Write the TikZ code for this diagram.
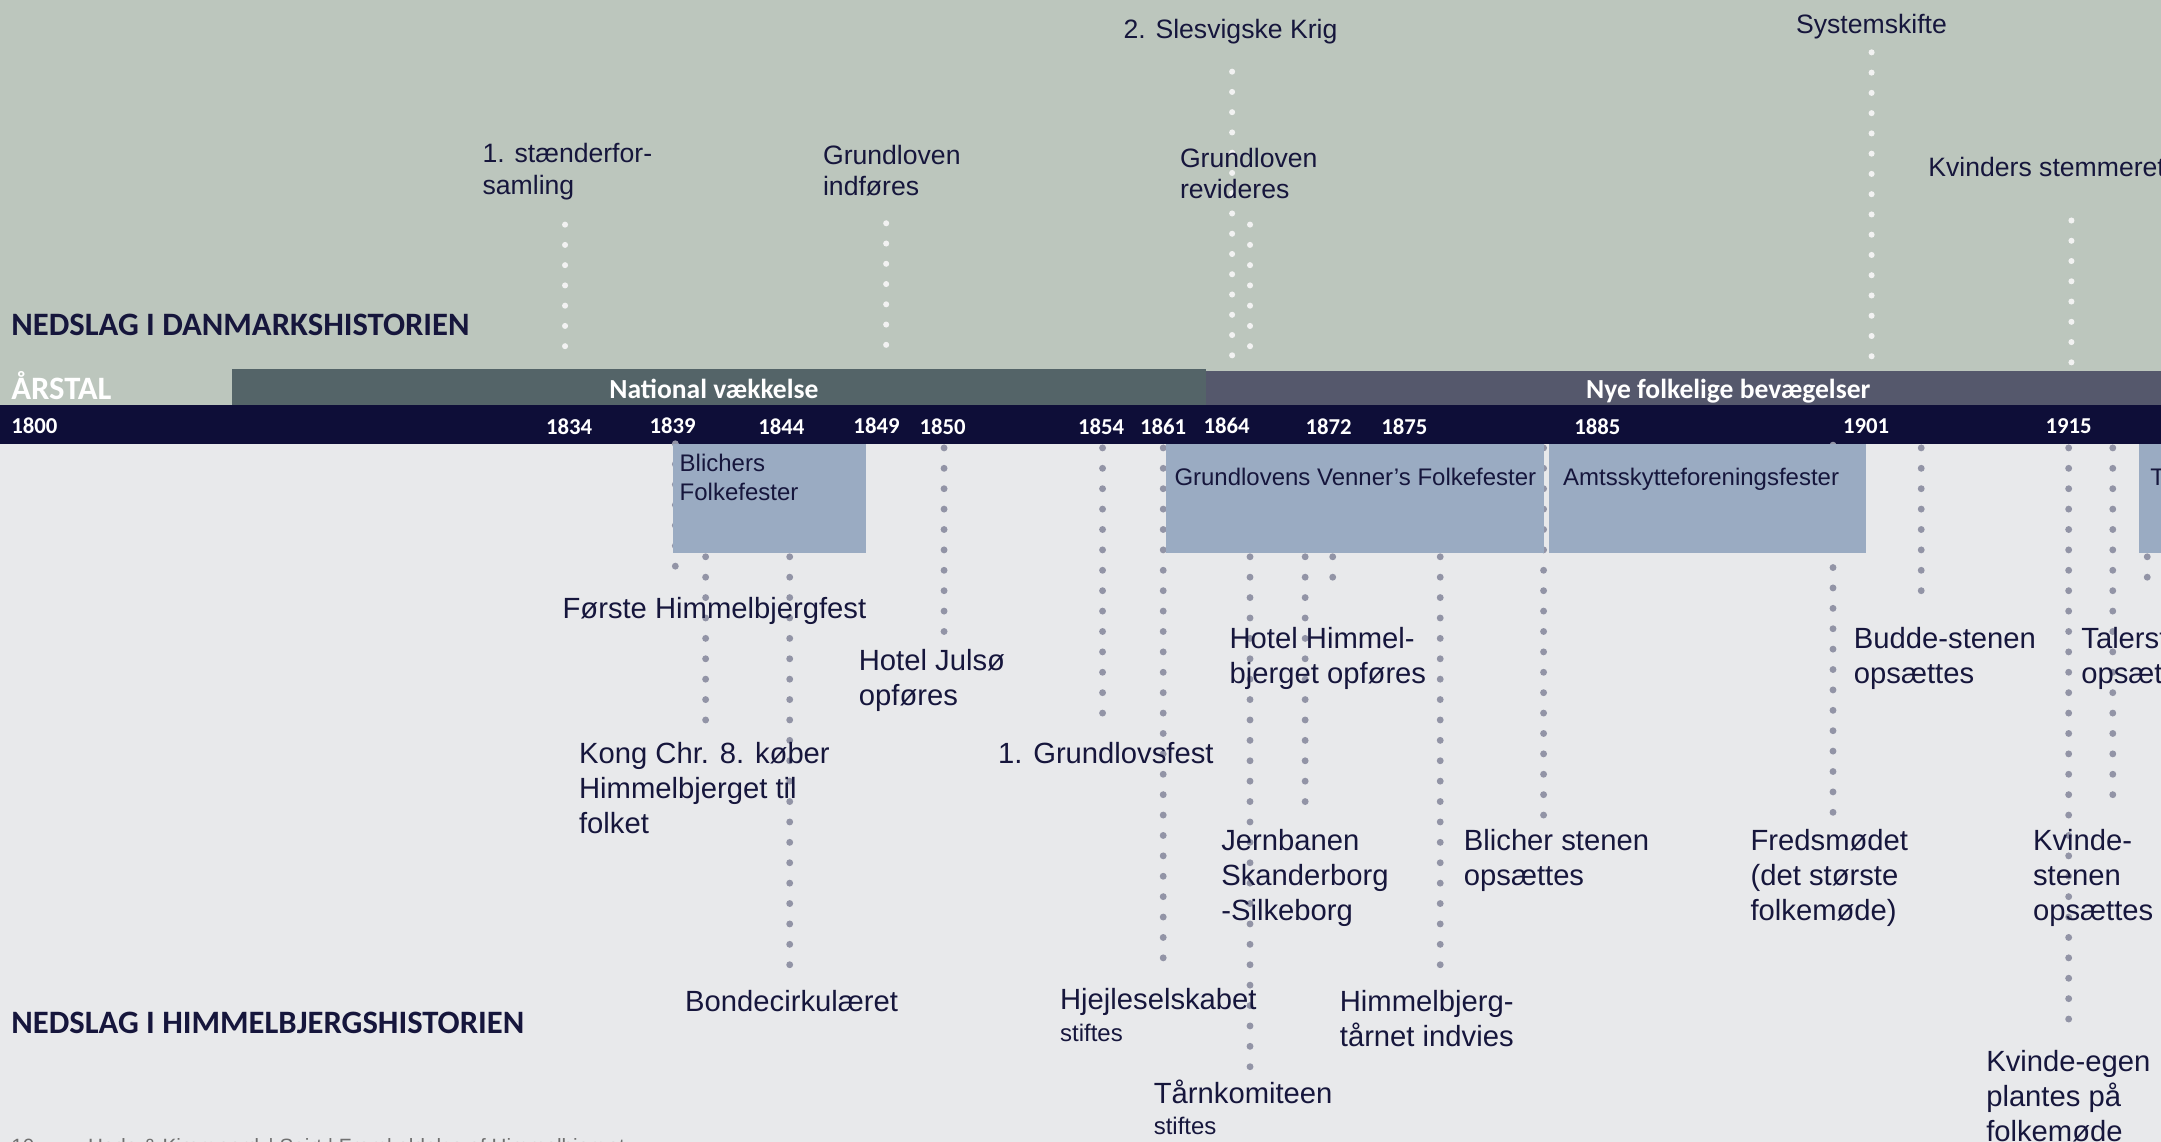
\documentclass[tikz,border=0pt]{standalone}
\usepackage{fontspec}
\setmainfont{Liberation Sans}
\newfontfamily\hdfont{Carlito}
\definecolor{topbg}{HTML}{BCC6BD}
\definecolor{lowbg}{HTML}{E8E9EB}
\definecolor{natband}{HTML}{546468}
\definecolor{nyeband}{HTML}{55586C}
\definecolor{yearbar}{HTML}{0E0E38}
\definecolor{boxfill}{HTML}{9AABC2}
\definecolor{ink}{HTML}{16163C}
\definecolor{wdot}{HTML}{F2F2F2}
\definecolor{gdot}{HTML}{9294A6}
\definecolor{foot}{HTML}{707070}
\tikzset{
  wdots/.style={draw=wdot, line width=4.4pt, line cap=round, dash pattern=on 0pt off 14.7pt},
  gdots/.style={draw=gdot, line width=5pt, line cap=round, dash pattern=on 0pt off 14.8pt},
  lbl/.style={anchor=north west, inner sep=0pt, align=left, text=ink, yshift=17.78pt,
    font=\fontsize{21.2}{25.4}\selectfont},
  toplbl/.style={anchor=north west, inner sep=0pt, align=left, text=ink, yshift=16.1pt,
    font=\fontsize{19.3}{23}\selectfont},
  boxlbl/.style={anchor=north west, inner sep=0pt, align=left, text=ink, yshift=14.7pt,
    font=\fontsize{17.4}{21}\selectfont},
  heading/.style={anchor=base west, inner sep=0pt, text=ink, font=\hdfont\bfseries\fontsize{23.7}{28}\selectfont},
  bandlbl/.style={anchor=base, inner sep=0pt, text=white, font=\hdfont\bfseries\fontsize{20}{24}\selectfont},
  year/.style={anchor=base, inner sep=0pt, text=white, font=\hdfont\bfseries\fontsize{16.5}{20}\selectfont},
  evbox/.style={fill=boxfill, draw=none, inner sep=0pt, anchor=north west},
}
\newcommand{\smalltx}[1]{{\fontsize{17.4}{21}\selectfont #1}}
\begin{document}
\begin{tikzpicture}[x=1pt,y=-1pt]
\useasboundingbox (0,0) rectangle (1568,828.6);
\clip (0,0) rectangle (1568,828.6);
% backgrounds
\fill[topbg] (0,0) rectangle (1568,294);
\fill[lowbg] (0,322) rectangle (1568,828.6);
\fill[natband] (168,268) rectangle (875,294);
\fill[nyeband] (875,269) rectangle (1568,294);
\fill[yearbar] (0,294) rectangle (1568,322);

% headings
\node[heading] (hdk) at (8,243.6) {NEDSLAG I DANMARKSHISTORIEN};
\node[heading] (hhb) at (8,749.6) {NEDSLAG I HIMMELBJERGSHISTORIEN};
\node[heading, text=white] (aarstal) at (8,290) {ÅRSTAL};
\node[bandlbl] (nat) at (518,289.5) {National vækkelse};
\node[bandlbl] (nye) at (1254,289.5) {Nye folkelige bevægelser};

% years
\node[year, anchor=base west] (y1800) at (8,314.5) {1800};
\node[year] (y1834) at (413,315.5) {1834};
\node[year] (y1839) at (488,314.5) {1839};
\node[year] (y1844) at (567,315.5) {1844};
\node[year] (y1849) at (636,314.5) {1849};
\node[year] (y1850) at (684,315.5) {1850};
\node[year] (y1854) at (799,315.5) {1854};
\node[year] (y1861) at (844,315.5) {1861};
\node[year] (y1864) at (890,314.5) {1864};
\node[year] (y1872) at (964,315.5) {1872};
\node[year] (y1875) at (1019,315.5) {1875};
\node[year] (y1885) at (1159,315.5) {1885};
\node[year] (y1901) at (1354,314.5) {1901};
\node[year] (y1915) at (1501,314.5) {1915};

% top (Danmarkshistorien) connectors
\coordinate (ta1) at (410,163); \coordinate (tb1) at (410,265);
\coordinate (ta2) at (643,162); \coordinate (tb2) at (643,263);
\coordinate (ta3) at (894,52);  \coordinate (tb3) at (894,265);
\coordinate (ta4) at (907,163); \coordinate (tb4) at (907,265);
\coordinate (ta5) at (1358,38); \coordinate (tb5) at (1358,262);
\coordinate (ta6) at (1503,160); \coordinate (tb6) at (1503,263);
\foreach \i in {1,...,6} \draw[wdots] (ta\i) -- (tb\i);

% lower (Himmelbjergshistorien) connectors
\coordinate (la1) at (490,322);  \coordinate (lb1) at (490,425);
\coordinate (la2) at (512,330);  \coordinate (lb2) at (512,524);
\coordinate (la3) at (573,330);  \coordinate (lb3) at (573,705);
\coordinate (la4) at (685,325);  \coordinate (lb4) at (685,460);
\coordinate (la5) at (800,325);  \coordinate (lb5) at (800,525);
\coordinate (la6) at (844,325);  \coordinate (lb6) at (844,705);
\coordinate (la7) at (907,330);  \coordinate (lb7) at (907,775);
\coordinate (la8) at (947,330);  \coordinate (lb8) at (947,592);
\coordinate (la9) at (967,330);  \coordinate (lb9) at (967,432);
\coordinate (la10) at (1045,330); \coordinate (lb10) at (1045,705);
\coordinate (la11) at (1120,325); \coordinate (lb11) at (1120,595);
\coordinate (la12) at (1330,323); \coordinate (lb12) at (1330,590);
\coordinate (la13) at (1394,325); \coordinate (lb13) at (1394,432);
\coordinate (la14) at (1501,325); \coordinate (lb14) at (1501,750);
\coordinate (la15) at (1533,325); \coordinate (lb15) at (1533,590);
\coordinate (la16) at (1558,330); \coordinate (lb16) at (1558,432);
\foreach \i in {1,...,16} \draw[gdots] (la\i) -- (lb\i);

% event boxes
\node[evbox, minimum width=140pt, minimum height=79pt] (bblicher) at (488,322) {};
\node[evbox, minimum width=274pt, minimum height=79pt] (bgrund) at (846,322) {};
\node[evbox, minimum width=230pt, minimum height=79pt] (bamts) at (1124,322) {};
\node[evbox, minimum width=30pt, minimum height=79pt] (btaler) at (1552,322) {};
\node[boxlbl] (tblicher) at (493,342) {\strut Blichers\\Folkefester};
\node[boxlbl] (tgrund) at (852,352) {\strut Grundlovens Venner’s Folkefester};
\node[boxlbl] (tamts) at (1134,352) {\strut Amtsskytteforeningsfester};
\node[boxlbl] (ttaler) at (1560,352) {\strut T};

% top labels
\node[toplbl] (staender) at (350,118) {\strut 1. stænderfor-\\samling};
\node[toplbl] (gindf) at (597,119) {\strut Grundloven\\indføres};
\node[toplbl] (slesvig) at (815,28) {\strut 2. Slesvigske Krig};
\node[toplbl] (grev) at (856,121) {\strut Grundloven\\revideres};
\node[toplbl] (system) at (1303,24) {\strut Systemskifte};
\node[toplbl] (kvstem) at (1399,128) {\strut Kvinders stemmeret};

% lower labels
\node[lbl] (foerste) at (408,448.6) {\strut Første Himmelbjergfest};
\node[lbl] (kong) at (420,553.6) {\strut Kong Chr. 8. køber\\Himmelbjerget til\\folket};
\node[lbl] (bonde) at (497,733.6) {\strut Bondecirkulæret};
\node[lbl] (julsoe) at (623,486.6) {\strut Hotel Julsø\\opføres};
\node[lbl] (grfest) at (724,553.6) {\strut 1. Grundlovsfest};
\node[lbl] (hjejle) at (769,732.6) {\strut Hjejleselskabet\\[-2.8pt]\smalltx{stiftes}};
\node[lbl] (taarn) at (837,800.6) {\strut Tårnkomiteen\\[-2.8pt]\smalltx{stiftes}};
\node[lbl] (jern) at (886,616.6) {\strut Jernbanen\\Skanderborg\\-Silkeborg};
\node[lbl] (hhotel) at (892,470.6) {\strut Hotel Himmel-\\bjerget opføres};
\node[lbl] (htaarn) at (972,733.6) {\strut Himmelbjerg-\\tårnet indvies};
\node[lbl] (blsten) at (1062,616.6) {\strut Blicher stenen\\opsættes};
\node[lbl] (freds) at (1270,616.6) {\strut Fredsmødet\\(det største\\folkemøde)};
\node[lbl] (budde) at (1345,470.6) {\strut Budde-stenen\\opsættes};
\node[lbl] (kvsten) at (1475,616.6) {\strut Kvinde-\\stenen\\opsættes};
\node[lbl] (kveg) at (1441,777.6) {\strut Kvinde-egen\\plantes på\\folkemøde};
\node[lbl] (taler) at (1510,470.6) {\strut Talerstolen\\opsættes};

% footer (cut off by the page edge)
\node[anchor=base west, inner sep=0pt, text=foot, font=\fontsize{15}{18}\selectfont] (footer) at (8,836.7)
  {10\hspace{2.6em}Hede \& Kjærgaard \,| Sejrt | Fremkaldelse af Himmelbjerget};
\end{tikzpicture}
\end{document}
